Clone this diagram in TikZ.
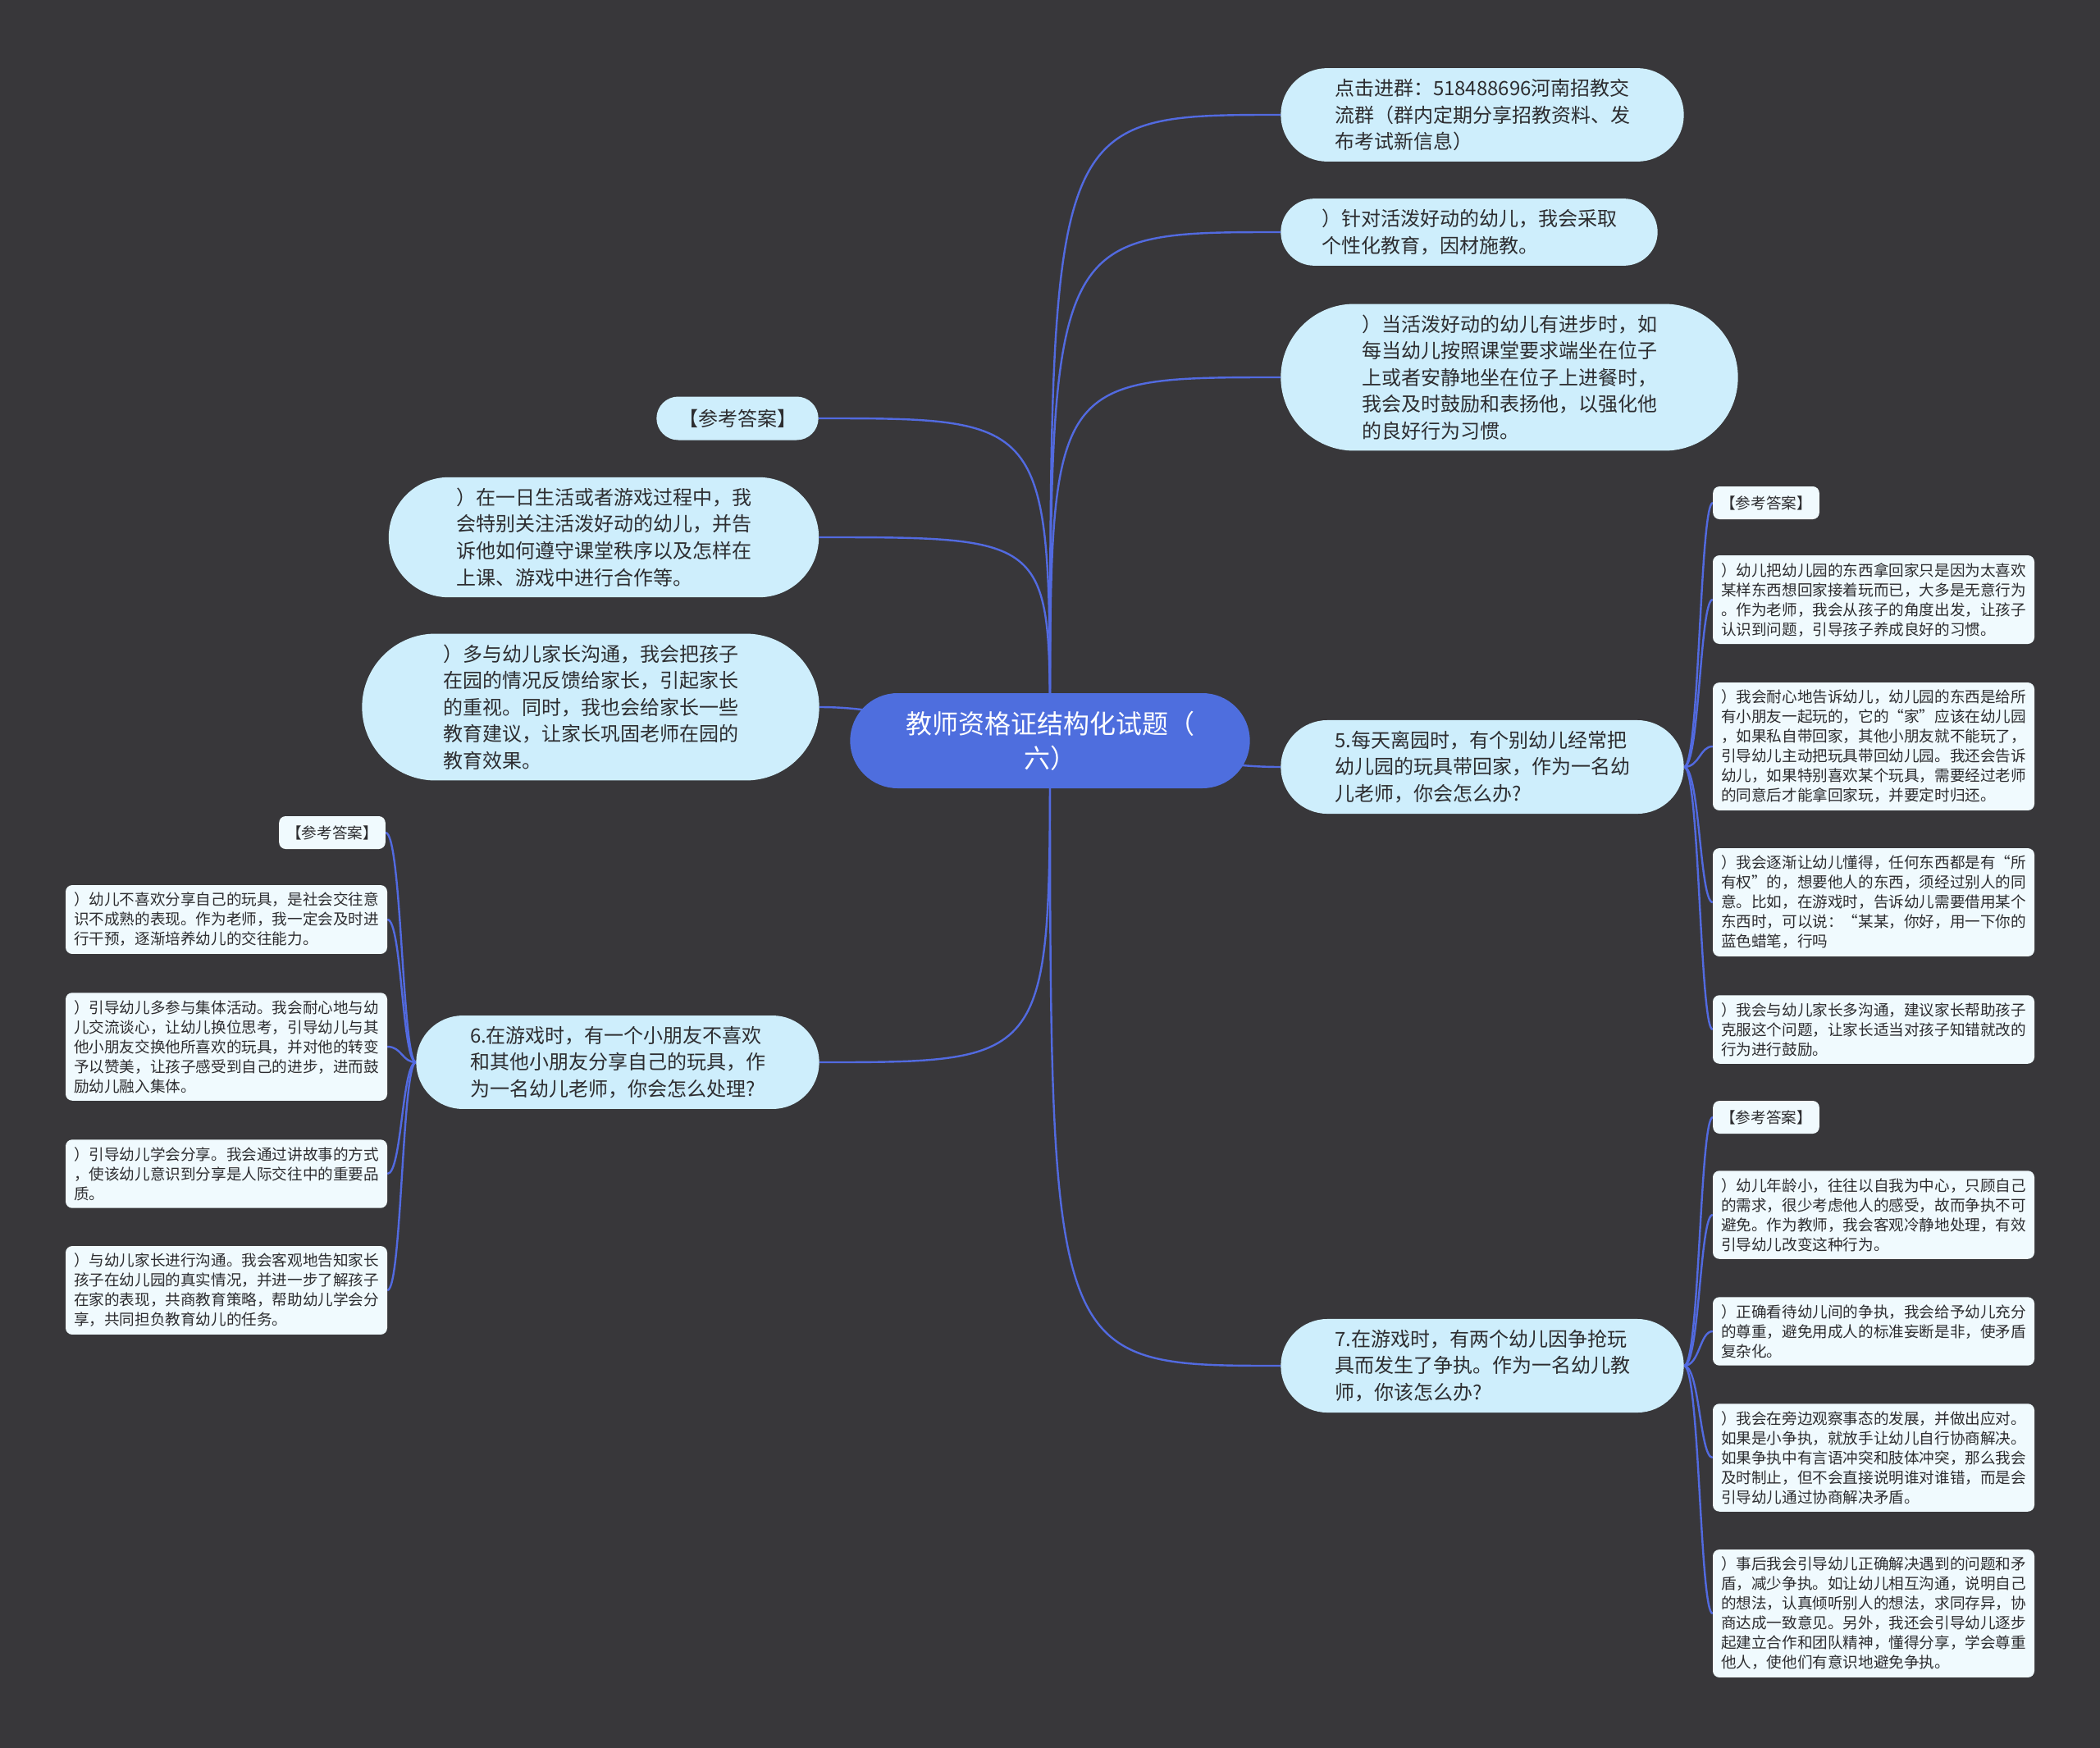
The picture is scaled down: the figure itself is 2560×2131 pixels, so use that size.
\documentclass[tikz,border=0pt]{standalone}
\usepackage{fontspec}
\setmainfont{Noto Sans CJK SC}
\usetikzlibrary{shapes.misc,backgrounds}
\definecolor{bgdark}{RGB}{56,55,58}
\definecolor{rootblue}{RGB}{78,110,222}
\definecolor{topicfill}{RGB}{206,238,252}
\definecolor{leaffill}{RGB}{240,250,254}
\definecolor{linkblue}{RGB}{82,106,224}
\definecolor{textdark}{RGB}{45,45,48}

\begin{document}
\begin{tikzpicture}[x=1pt,y=1pt,
  root/.style={rounded rectangle,fill=rootblue,text=white,align=center,minimum width=494pt,minimum height=116pt,font=\fontsize{32}{42}\selectfont},
  topic/.style={rounded rectangle,fill=topicfill,text=textdark,align=left,inner ysep=13pt,font=\fontsize{24}{32.6}\selectfont},
  leaf/.style={rectangle,rounded corners=8pt,fill=leaffill,text=textdark,align=left,minimum width=392pt,inner xsep=9pt,inner ysep=9pt,font=\fontsize{18.6}{24}\selectfont},
  tag/.style={leaf,minimum width=129pt,minimum height=40pt},
  link/.style={draw=linkblue,line width=2.4pt}]
  \useasboundingbox (0,0) rectangle (2560,-2131);
  \begin{scope}[on background layer]
    \fill[bgdark] (0,0) rectangle (2560,-2131);
  \end{scope}

  % centre
  \node[root] (root) at (1280,-903) {教师资格证结构化试题（\\六）};

  % right side
  \node[topic,minimum width=498pt] (w1) at (1807,-140) {点击进群：518488696河南招教交\\流群（群内定期分享招教资料、发\\布考试新信息）};
  \node[topic,minimum width=466pt] (w2) at (1791,-283) {）针对活泼好动的幼儿，我会采取\\个性化教育，因材施教。};
  \node[topic,minimum width=564pt] (w3) at (1840,-460) {）当活泼好动的幼儿有进步时，如\\每当幼儿按照课堂要求端坐在位子\\上或者安静地坐在位子上进餐时，\\我会及时鼓励和表扬他，以强化他\\的良好行为习惯。};
  \node[topic,minimum width=498pt] (q5) at (1807,-935) {5.每天离园时，有个别幼儿经常把\\幼儿园的玩具带回家，作为一名幼\\儿老师，你会怎么办?};
  \node[topic,minimum width=498pt] (q7) at (1807,-1665) {7.在游戏时，有两个幼儿因争抢玩\\具而发生了争执。作为一名幼儿教\\师，你该怎么办?};

  % left side
  \node[topic,minimum width=204pt,minimum height=53pt,inner ysep=4pt] (ans) at (899,-510) {【参考答案】};
  \node[topic,minimum width=531pt] (s1) at (736,-655) {）在一日生活或者游戏过程中，我\\会特别关注活泼好动的幼儿，并告\\诉他如何遵守课堂秩序以及怎样在\\上课、游戏中进行合作等。};
  \node[topic,minimum width=564pt] (s2) at (720,-862) {）多与幼儿家长沟通，我会把孩子\\在园的情况反馈给家长，引起家长\\的重视。同时，我也会给家长一些\\教育建议，让家长巩固老师在园的\\教育效果。};
  \node[topic,minimum width=498pt] (q6) at (753,-1295) {6.在游戏时，有一个小朋友不喜欢\\和其他小朋友分享自己的玩具，作\\为一名幼儿老师，你会怎么处理?};

  % answers to 5
  \node[tag,anchor=west] (a5) at (2088,-613) {【参考答案】};
  \node[leaf] (a51) at (2284,-731) {）幼儿把幼儿园的东西拿回家只是因为太喜欢\\某样东西想回家接着玩而已，大多是无意行为\\。作为老师，我会从孩子的角度出发，让孩子\\认识到问题，引导孩子养成良好的习惯。};
  \node[leaf] (a52) at (2284,-910) {）我会耐心地告诉幼儿，幼儿园的东西是给所\\有小朋友一起玩的，它的“家”应该在幼儿园\\，如果私自带回家，其他小朋友就不能玩了，\\引导幼儿主动把玩具带回幼儿园。我还会告诉\\幼儿，如果特别喜欢某个玩具，需要经过老师\\的同意后才能拿回家玩，并要定时归还。};
  \node[leaf] (a53) at (2284,-1100) {）我会逐渐让幼儿懂得，任何东西都是有“所\\有权”的，想要他人的东西，须经过别人的同\\意。比如，在游戏时，告诉幼儿需要借用某个\\东西时，可以说：“某某，你好，用一下你的\\蓝色蜡笔，行吗};
  \node[leaf] (a54) at (2284,-1255) {）我会与幼儿家长多沟通，建议家长帮助孩子\\克服这个问题，让家长适当对孩子知错就改的\\行为进行鼓励。};

  % answers to 7
  \node[tag,anchor=west] (a7) at (2088,-1362) {【参考答案】};
  \node[leaf] (a71) at (2284,-1481) {）幼儿年龄小，往往以自我为中心，只顾自己\\的需求，很少考虑他人的感受，故而争执不可\\避免。作为教师，我会客观冷静地处理，有效\\引导幼儿改变这种行为。};
  \node[leaf] (a72) at (2284,-1623) {）正确看待幼儿间的争执，我会给予幼儿充分\\的尊重，避免用成人的标准妄断是非，使矛盾\\复杂化。};
  \node[leaf] (a73) at (2284,-1777) {）我会在旁边观察事态的发展，并做出应对。\\如果是小争执，就放手让幼儿自行协商解决。\\如果争执中有言语冲突和肢体冲突，那么我会\\及时制止，但不会直接说明谁对谁错，而是会\\引导幼儿通过协商解决矛盾。};
  \node[leaf] (a74) at (2284,-1967) {）事后我会引导幼儿正确解决遇到的问题和矛\\盾，减少争执。如让幼儿相互沟通，说明自己\\的想法，认真倾听别人的想法，求同存异，协\\商达成一致意见。另外，我还会引导幼儿逐步\\起建立合作和团队精神，懂得分享，学会尊重\\他人，使他们有意识地避免争执。};

  % answers to 6
  \node[tag,anchor=east] (a6) at (470,-1015) {【参考答案】};
  \node[leaf] (a61) at (276,-1121) {）幼儿不喜欢分享自己的玩具，是社会交往意\\识不成熟的表现。作为老师，我一定会及时进\\行干预，逐渐培养幼儿的交往能力。};
  \node[leaf] (a62) at (276,-1276) {）引导幼儿多参与集体活动。我会耐心地与幼\\儿交流谈心，让幼儿换位思考，引导幼儿与其\\他小朋友交换他所喜欢的玩具，并对他的转变\\予以赞美，让孩子感受到自己的进步，进而鼓\\励幼儿融入集体。};
  \node[leaf] (a63) at (276,-1431) {）引导幼儿学会分享。我会通过讲故事的方式\\，使该幼儿意识到分享是人际交往中的重要品\\质。};
  \node[leaf] (a64) at (276,-1573) {）与幼儿家长进行沟通。我会客观地告知家长\\孩子在幼儿园的真实情况，并进一步了解孩子\\在家的表现，共商教育策略，帮助幼儿学会分\\享，共同担负教育幼儿的任务。};

  \coordinate (f5) at (2072,-935);
  \coordinate (f7) at (2072,-1665);
  \coordinate (f6) at (490,-1295);

  \begin{scope}[on background layer]
    \draw[link] (root.center) .. controls (root.center |- w1.west) and (root.center |- w1.west) .. (w1.west);
    \draw[link] (root.center) .. controls (root.center |- w2.west) and (root.center |- w2.west) .. (w2.west);
    \draw[link] (root.center) .. controls (root.center |- w3.west) and (root.center |- w3.west) .. (w3.west);
    \draw[link] (root.center) to[out=0,in=180] (q5.west);
    \draw[link] (root.center) .. controls (root.center |- q7.west) and (root.center |- q7.west) .. (q7.west);
    \draw[link] (root.center) .. controls (root.center |- ans.east) and (root.center |- ans.east) .. (ans.east);
    \draw[link] (root.center) .. controls (root.center |- s1.east) and (root.center |- s1.east) .. (s1.east);
    \draw[link] (root.center) to[out=180,in=0] (s2.east);
    \draw[link] (root.center) .. controls (root.center |- q6.east) and (root.center |- q6.east) .. (q6.east);
    % leaves
    \foreach \n in {a5,a51,a52,a53,a54}
      \draw[link] (q5.east) .. controls (f5) and (f5 |- \n.west) .. (\n.west);
    \foreach \n in {a7,a71,a72,a73,a74}
      \draw[link] (q7.east) .. controls (f7) and (f7 |- \n.west) .. (\n.west);
    \foreach \n in {a6,a61,a62,a63,a64}
      \draw[link] (q6.west) .. controls (f6) and (f6 |- \n.east) .. (\n.east);
  \end{scope}
\end{tikzpicture}
\end{document}
